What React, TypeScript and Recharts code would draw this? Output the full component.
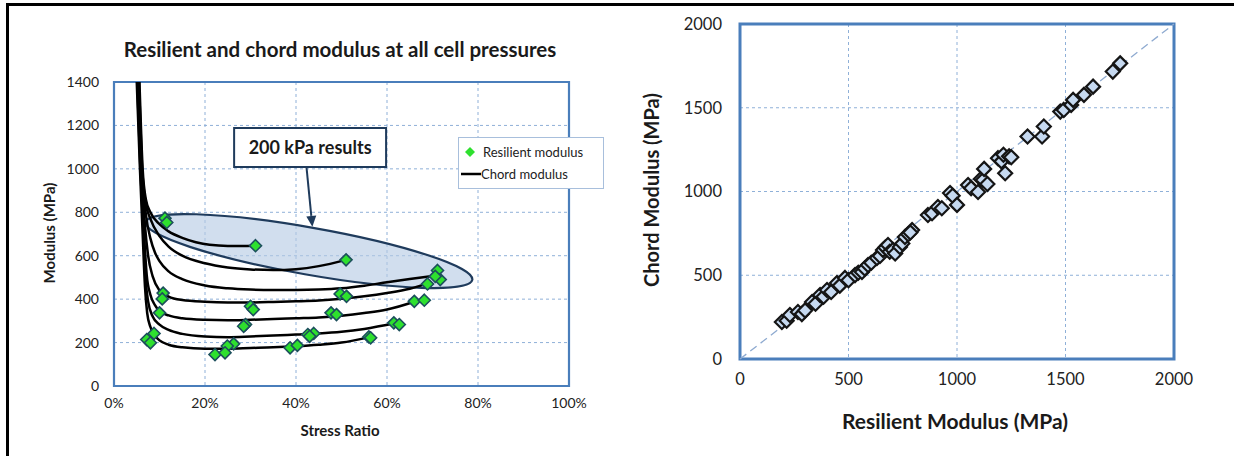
import React from 'react';
import {
  ComposedChart, ScatterChart, Line, Scatter, XAxis, YAxis, CartesianGrid,
  ReferenceArea, ReferenceLine, Legend,
} from 'recharts';

const FONT = 'Lato, "Open Sans", sans-serif';

// ---- left chart: chord modulus curves, [stress ratio %, modulus MPa]
const chordCurve1: [number, number][] = [[5.6, 1400], [6.3, 1000], [7, 860], [8, 800], [10, 745], [12, 712], [15, 682], [18, 662], [21, 650], [25, 645], [28, 645], [31, 646]];
const chordCurve2: [number, number][] = [[5.5, 1400], [6.2, 1000], [7, 840], [8, 770], [10, 690], [12, 642], [15, 600], [20, 565], [25, 546], [30, 537], [35, 534], [40, 538], [45, 552], [51, 581]];
const chordCurve3: [number, number][] = [[5.4, 1400], [6.1, 1000], [7, 790], [8, 680], [9, 615], [10, 575], [12, 528], [15, 492], [20, 463], [25, 450], [30, 444], [35, 442], [40, 442], [45, 444], [50, 450], [55, 462], [60, 478], [65, 493], [70.5, 508]];
const chordCurve4: [number, number][] = [[5.3, 1400], [6, 1000], [6.8, 740], [7.5, 600], [8.5, 505], [10, 440], [12, 412], [15, 396], [20, 388], [25, 385], [30, 385], [35, 387], [40, 390], [45, 394], [50, 402], [55, 413], [60, 428], [65, 448], [69, 474]];
const chordCurve5: [number, number][] = [[5.2, 1400], [5.9, 1000], [6.6, 700], [7.2, 510], [8, 420], [9, 372], [10, 345], [12, 325], [15, 312], [20, 305], [25, 303], [30, 305], [35, 308], [40, 312], [45, 316], [50, 324], [55, 336], [60, 352], [66, 388]];
const chordCurve6: [number, number][] = [[5.1, 1400], [5.8, 1000], [6.5, 700], [7, 480], [7.5, 390], [8.5, 320], [10, 283], [12, 258], [15, 240], [20, 228], [25, 225], [30, 228], [35, 232], [40, 237], [45, 242], [50, 250], [55, 263], [62, 290]];
const chordCurve7: [number, number][] = [[5.0, 1400], [5.7, 1000], [6.3, 700], [6.8, 460], [7.3, 335], [8, 272], [9, 232], [10, 210], [12, 190], [15, 178], [20, 172], [25, 172], [30, 175], [35, 178], [40, 183], [45, 190], [50, 200], [56, 224]];

// resilient modulus test points, [stress ratio %, MPa]
const resilientPoints: [number, number][] = [
  [11.2, 773], [11.6, 753], [31.1, 646], [51.0, 581], [71.1, 532], [71.7, 490], [68.9, 470], [70.6, 505],
  [10.8, 428], [10.6, 401], [49.7, 424], [51.1, 413], [66.0, 390], [68.2, 395],
  [10.0, 337], [30.0, 367], [30.6, 352], [47.7, 337], [48.9, 329],
  [28.9, 283], [28.5, 275], [61.5, 291], [62.7, 283],
  [8.8, 242], [7.2, 214], [8.0, 199], [42.6, 237], [43.9, 242], [43.0, 229], [56.0, 226], [56.4, 222],
  [26.3, 194], [24.9, 184], [22.2, 145], [24.4, 153], [38.7, 176], [40.3, 187],
];

const stressTicks = [0, 20, 40, 60, 80, 100];
const modulusTicks = [0, 200, 400, 600, 800, 1000, 1200, 1400];

// ---- right chart: [resilient MPa, chord MPa]
const comparePoints: [number, number][] = [
  [193, 221], [215, 228], [230, 263], [267, 281], [285, 268], [300, 290], [332, 340], [348, 330], [369, 382], [385, 372],
  [401, 412], [420, 400], [447, 454], [460, 438], [484, 484], [500, 470], [530, 501], [545, 515], [562, 519], [575, 540],
  [590, 561], [605, 575], [631, 603], [645, 615], [659, 651], [670, 665], [682, 681], [690, 640], [705, 651], [715, 630],
  [737, 669], [748, 690], [760, 728], [775, 745], [793, 770], [785, 755], [866, 860], [885, 870], [912, 907], [930, 900],
  [968, 991], [980, 975], [1000, 920], [1051, 1039], [1065, 1020], [1097, 997], [1110, 1075], [1120, 1069], [1125, 1135], [1140, 1045],
  [1189, 1199], [1205, 1180], [1214, 1219], [1222, 1109], [1240, 1210], [1250, 1205], [1325, 1328], [1392, 1328], [1400, 1388],
  [1476, 1477], [1492, 1487], [1526, 1517], [1535, 1547], [1585, 1577], [1627, 1626], [1718, 1716], [1752, 1765],
];
const compareTicks = [0, 500, 1000, 1500, 2000];

const toXY = (pts: [number, number][]) => pts.map(([x, y]) => ({ x, y }));
const chordCurves = [chordCurve1, chordCurve2, chordCurve3, chordCurve4, chordCurve5, chordCurve6, chordCurve7].map(toXY);

const GreenDiamond = (props: any) => {
  const { cx, cy } = props;
  const r = 6;
  return <path d={`M${cx},${cy - r}L${cx + r},${cy}L${cx},${cy + r}L${cx - r},${cy}Z`} fill="#2ee02e" stroke="#1c4f5c" strokeWidth={1.6} />;
};

const BlueDiamond = (props: any) => {
  const { cx, cy } = props;
  const r = 7;
  return <path d={`M${cx},${cy - r}L${cx + r},${cy}L${cx},${cy + r}L${cx - r},${cy}Z`} fill="#c6d9f0" stroke="#151515" strokeWidth={2.2} />;
};

// highlighted 200 kPa region, tilted ellipse
const EllipseShape = (props: any) => {
  const { x, y, width, height } = props;
  const cx = x + width / 2;
  const cy = y + height / 2;
  return (
    <ellipse cx={cx} cy={cy} rx={width / 2} ry={height / 2} transform={`rotate(10 ${cx} ${cy})`}
      fill="rgba(180,201,228,0.62)" stroke="#1f3b5c" strokeWidth={2.2} />
  );
};

const ArrowShape = (props: any) => {
  const { x1, y1, x2, y2 } = props;
  const ang = Math.atan2(y2 - y1, x2 - x1);
  const len = 11, half = 5;
  const bx = x2 - len * Math.cos(ang), by = y2 - len * Math.sin(ang);
  const px = -Math.sin(ang) * half, py = Math.cos(ang) * half;
  return (
    <g>
      <line x1={x1} y1={y1} x2={bx} y2={by} stroke="#1f3b5c" strokeWidth={2} />
      <path d={`M${x2},${y2}L${bx + px},${by + py}L${bx - px},${by - py}Z`} fill="#1f3b5c" />
    </g>
  );
};

const LegendBox = () => (
  <div style={{ border: '1px solid #a8bfdc', background: '#fff', width: 146, height: 52, fontFamily: FONT, fontSize: 13, color: '#222', boxSizing: 'border-box', paddingTop: 3 }}>
    <div style={{ display: 'flex', alignItems: 'center', height: 22 }}>
      <svg width={22} height={12}><path d="M11,1L16,6L11,11L6,6Z" fill="#2ee02e" /></svg>
      <span style={{ marginLeft: 2 }}>Resilient modulus</span>
    </div>
    <div style={{ display: 'flex', alignItems: 'center', height: 22 }}>
      <svg width={22} height={12}><line x1={2} y1={6} x2={22} y2={6} stroke="#000" strokeWidth={2.5} /></svg>
      <span>Chord modulus</span>
    </div>
  </div>
);

const tickStyle = { fontFamily: FONT, fill: '#222' };

export default function App() {
  return (
    <div style={{ position: 'absolute', left: 0, top: 0, width: 1234, height: 456, background: '#fff', overflow: 'hidden' }}>
      <div style={{ position: 'absolute', left: 6, top: 3, width: 1240, height: 470, borderTop: '3px solid #000', borderLeft: '3px solid #000' }} />

      {/* left chart */}
      <div style={{ position: 'absolute', left: 0, top: 0 }}>
        <ComposedChart width={620} height={456} margin={{ top: 82, right: 51, bottom: 46, left: 54 }}>
          <CartesianGrid stroke="#8fb0d8" strokeDasharray="3 3" />
          <XAxis dataKey="x" type="number" domain={[0, 100]} ticks={stressTicks} tickFormatter={(v) => `${v}%`}
            axisLine={false} tickLine={false} tickMargin={6} height={24} tick={{ ...tickStyle, fontSize: 14 }} interval={0} />
          <YAxis dataKey="y" type="number" domain={[0, 1400]} ticks={modulusTicks} allowDataOverflow
            axisLine={false} tickLine={false} tickMargin={9} width={60} tick={{ ...tickStyle, fontSize: 14 }} interval={0} />
          <ReferenceArea x1={6.4} x2={79.3} y1={513} y2={730} shape={EllipseShape} ifOverflow="visible" />
          {chordCurves.map((c, i) => (
            <Line key={i} data={c} dataKey="y" type="monotone" stroke="#000" strokeWidth={2.5} dot={false}
              activeDot={false} isAnimationActive={false} legendType="line" name={i === 0 ? 'Chord modulus' : undefined} />
          ))}
          <Scatter data={toXY(resilientPoints)} dataKey="y" name="Resilient modulus" shape={GreenDiamond} isAnimationActive={false} />
          <ReferenceArea x1={0} x2={100} y1={0} y2={1400} fill="none" stroke="#4a7ebb" strokeWidth={2.2} ifOverflow="visible" />
          <ReferenceArea x1={26.4} x2={59.8} y1={1009} y2={1188} fill="#fff" fillOpacity={1} stroke="#1f3b5c" strokeWidth={2}
            label={{ value: '200 kPa results', position: 'center', fontFamily: FONT, fontSize: 18, fontWeight: 700, fill: '#1a1a1a' }} />
          <ReferenceLine segment={[{ x: 42.3, y: 1009 }, { x: 43.6, y: 733 }]} shape={ArrowShape} ifOverflow="visible" />
          <Legend layout="horizontal" verticalAlign="middle" align="center" content={<LegendBox />}
            wrapperStyle={{ position: 'absolute', left: 458, top: 137, width: 146, height: 52 }} />
        </ComposedChart>
        <div style={{ position: 'absolute', left: 0, width: 680, top: 37, textAlign: 'center', fontFamily: FONT, fontWeight: 700, fontSize: 20.5, color: '#1a1a1a' }}>
          Resilient and chord modulus at all cell pressures
        </div>
        <div style={{ position: 'absolute', left: 240, width: 200, top: 421, textAlign: 'center', fontFamily: FONT, fontWeight: 700, fontSize: 15, color: '#1a1a1a' }}>
          Stress Ratio
        </div>
        <div style={{ position: 'absolute', left: -51, width: 200, top: 224, textAlign: 'center', fontFamily: FONT, fontWeight: 700, fontSize: 15, color: '#1a1a1a', transform: 'rotate(-90deg)' }}>
          Modulus (MPa)
        </div>
      </div>

      {/* right chart */}
      <div style={{ position: 'absolute', left: 640, top: 0 }}>
        <ScatterChart width={560} height={456} margin={{ top: 24, right: 26, bottom: 69, left: 40 }}>
          <CartesianGrid stroke="#8fb0d8" strokeDasharray="3 3" />
          <XAxis dataKey="x" type="number" domain={[0, 2000]} ticks={compareTicks} axisLine={false} tickLine={false}
            tickMargin={8} height={28} tick={{ ...tickStyle, fontSize: 16.5 }} interval={0} />
          <YAxis dataKey="y" type="number" domain={[0, 2000]} ticks={compareTicks} axisLine={false} tickLine={false}
            tickMargin={12} width={60} tick={{ ...tickStyle, fontSize: 16.5 }} interval={0} />
          <ReferenceLine segment={[{ x: 0, y: 0 }, { x: 2000, y: 2000 }]} stroke="#8eaad0" strokeWidth={1.3} strokeDasharray="8 5" />
          <Scatter data={toXY(comparePoints)} shape={BlueDiamond} isAnimationActive={false} />
          <ReferenceArea x1={0} x2={2000} y1={0} y2={2000} fill="none" stroke="#4a7ebb" strokeWidth={3} ifOverflow="visible" />
        </ScatterChart>
        <div style={{ position: 'absolute', left: 165, width: 300, top: 408, textAlign: 'center', fontFamily: FONT, fontWeight: 700, fontSize: 21, color: '#1a1a1a' }}>
          Resilient Modulus (MPa)
        </div>
        <div style={{ position: 'absolute', left: -139, width: 300, top: 178, textAlign: 'center', fontFamily: FONT, fontWeight: 700, fontSize: 20, color: '#1a1a1a', transform: 'rotate(-90deg)' }}>
          Chord Modulus (MPa)
        </div>
      </div>
    </div>
  );
}
